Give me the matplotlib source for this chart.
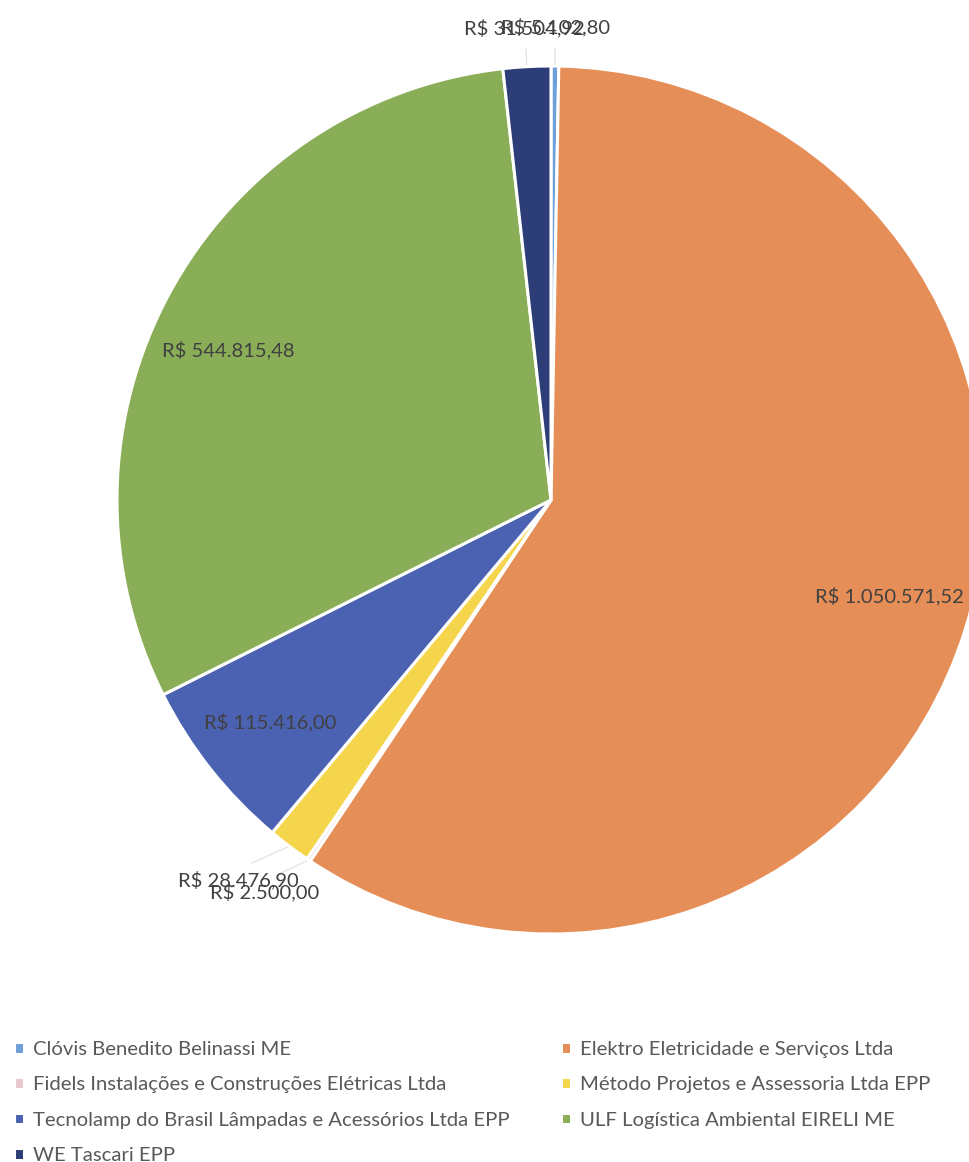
import numpy as np
import matplotlib.pyplot as plt

plt.rcParams['font.family'] = ['Lato', 'DejaVu Sans']

empresas = ['Clóvis Benedito Belinassi ME',
            'Elektro Eletricidade e Serviços Ltda',
            'Fidels Instalações e Construções Elétricas Ltda',
            'Método Projetos e Assessoria Ltda EPP',
            'Tecnolamp do Brasil Lâmpadas e Acessórios Ltda EPP',
            'ULF Logística Ambiental EIRELI ME',
            'WE Tascari EPP']
valores = [5102.80, 1050571.52, 2500.00, 28476.90, 115416.00, 544815.48, 31504.92]
cores = ['#6f9fd8', '#e68e57', '#e9c9cf', '#f4d54c', '#4b62b2', '#8aae58', '#2d3d78']
# posicao do rotulo: distancia ao centro (fracao do raio) e desvio angular (graus, horario)
raio_rot = [1.09, 0.81, 1.12, 1.134, 0.825, 0.82, 1.09]
desvio = [0, -1.5, 2.2, 2.4, 0, -3.5, 0]


def reais(v):
    s = f'{v:,.2f}'
    s = s.replace(',', 'X').replace('.', ',').replace('X', '.')
    return 'R$ ' + s


fig = plt.figure(figsize=(9.69, 11.62), dpi=100)
ax = fig.add_axes([0, 0, 1, 1])

fatias, _ = ax.pie(valores, colors=cores, startangle=90, counterclock=False,
                   wedgeprops=dict(edgecolor='white', linewidth=2.2))

for w, v, r, d in zip(fatias, valores, raio_rot, desvio):
    meio = np.deg2rad((w.theta1 + w.theta2) / 2)
    ang = np.deg2rad((w.theta1 + w.theta2) / 2 - d)
    x, y = r * np.cos(ang), r * np.sin(ang)
    if r > 1:
        ax.plot([np.cos(meio) * 1.0, np.cos(ang) * (r - 0.05)],
                [np.sin(meio) * 1.0, np.sin(ang) * (r - 0.05)],
                color='#e6dcdc', lw=0.8, zorder=0)
    ax.text(x, y, reais(v), ha='center', va='center', fontsize=14.5,
            color='#404040')

# centro do grafico em (551, 500) px, raio 434 px
ax.set_xlim(-551 / 434, (969 - 551) / 434)
ax.set_ylim((500 - 1162) / 434, 500 / 434)
ax.axis('off')

ordem = [0, 2, 4, 6, 1, 3, 5]
fig.legend([fatias[i] for i in ordem], [empresas[i] for i in ordem],
           loc='upper left', bbox_to_anchor=(0.004, 0.1127), ncol=2,
           frameon=False, fontsize=14.6, labelcolor='#595959',
           handlelength=0.5, handleheight=0.5, handletextpad=0.45,
           columnspacing=2.5, labelspacing=0.9, borderpad=0)

plt.savefig('out.png', dpi=100)
